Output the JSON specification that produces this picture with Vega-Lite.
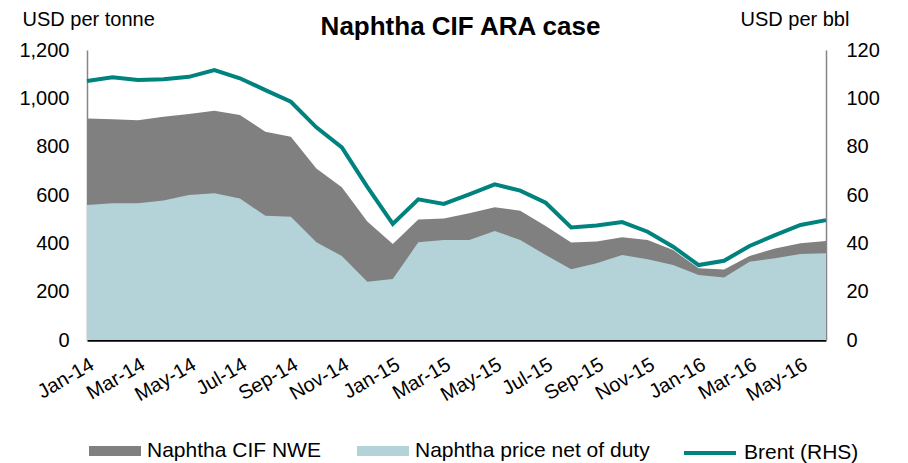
{
  "$schema": "https://vega.github.io/schema/vega-lite/v6.json",
  "autosize": {"type": "none"},
  "width": 739,
  "height": 290,
  "padding": {"left": 87, "top": 50, "right": 82, "bottom": 123},
  "background": "white",
  "title": {"text": "Naphtha CIF ARA case", "fontSize": 26, "fontWeight": "bold", "font": "Liberation Sans", "color": "black", "anchor": "middle", "frame": "group", "baseline": "alphabetic", "offset": 18, "dx": 4, "dy": 70},
  "config": {
    "view": {"stroke": null},
    "font": "Liberation Sans",
    "axis": {"labelFont": "Liberation Sans", "labelFontSize": 20, "labelColor": "black", "titleFont": "Liberation Sans", "titleFontSize": 20, "titleFontWeight": "normal", "titleColor": "black", "grid": false, "ticks": false},
    "legend": {"labelFont": "Liberation Sans", "labelFontSize": 21, "labelColor": "black", "labelLimit": 400}
  },
  "data": {"values": [
    {"month": "Jan-14", "cif": 917, "net": 559, "brent": 107.2},
    {"month": "Feb-14", "cif": 913, "net": 566, "brent": 108.7},
    {"month": "Mar-14", "cif": 909, "net": 566, "brent": 107.6},
    {"month": "Apr-14", "cif": 924, "net": 577, "brent": 107.9},
    {"month": "May-14", "cif": 935, "net": 600, "brent": 108.9},
    {"month": "Jun-14", "cif": 949, "net": 607, "brent": 111.7},
    {"month": "Jul-14", "cif": 931, "net": 586, "brent": 108.3},
    {"month": "Aug-14", "cif": 862, "net": 514, "brent": 103.4},
    {"month": "Sep-14", "cif": 841, "net": 510, "brent": 98.6},
    {"month": "Oct-14", "cif": 710, "net": 404, "brent": 88.0},
    {"month": "Nov-14", "cif": 632, "net": 348, "brent": 79.7},
    {"month": "Dec-14", "cif": 490, "net": 241, "brent": 63.4},
    {"month": "Jan-15", "cif": 397, "net": 252, "brent": 48.0},
    {"month": "Feb-15", "cif": 499, "net": 404, "brent": 58.2},
    {"month": "Mar-15", "cif": 503, "net": 414, "brent": 56.3},
    {"month": "Apr-15", "cif": 524, "net": 414, "brent": 60.3},
    {"month": "May-15", "cif": 549, "net": 451, "brent": 64.4},
    {"month": "Jun-15", "cif": 535, "net": 414, "brent": 61.8},
    {"month": "Jul-15", "cif": 472, "net": 352, "brent": 56.8},
    {"month": "Aug-15", "cif": 403, "net": 293, "brent": 46.6},
    {"month": "Sep-15", "cif": 408, "net": 318, "brent": 47.4},
    {"month": "Oct-15", "cif": 425, "net": 352, "brent": 48.8},
    {"month": "Nov-15", "cif": 414, "net": 334, "brent": 44.8},
    {"month": "Dec-15", "cif": 372, "net": 310, "brent": 38.6},
    {"month": "Jan-16", "cif": 297, "net": 269, "brent": 31.0},
    {"month": "Feb-16", "cif": 292, "net": 259, "brent": 32.8},
    {"month": "Mar-16", "cif": 348, "net": 324, "brent": 38.9},
    {"month": "Apr-16", "cif": 379, "net": 338, "brent": 43.4},
    {"month": "May-16", "cif": 400, "net": 356, "brent": 47.6},
    {"month": "Jun-16", "cif": 410, "net": 359, "brent": 49.6}
  ]},
  "encoding": {
    "x": {"field": "month", "type": "ordinal", "sort": null,
      "scale": {"type": "point", "padding": 0},
      "axis": {"title": null, "values": ["Jan-14","Mar-14","May-14","Jul-14","Sep-14","Nov-14","Jan-15","Mar-15","May-15","Jul-15","Sep-15","Nov-15","Jan-16","Mar-16","May-16"],
        "labelAngle": -30, "labelAlign": "right", "labelBaseline": "top", "labelPadding": 14, "domainColor": "black", "domainWidth": 2.5}}
  },
  "layer": [
    {
      "layer": [
        {"mark": {"type": "area", "opacity": 1},
         "encoding": {
           "y": {"field": "cif", "type": "quantitative", "scale": {"domain": [0, 1200]},
             "axis": {"orient": "left", "values": [0,200,400,600,800,1000,1200], "format": ",.0f", "labelPadding": 18, "domainColor": "#868686", "domainWidth": 1.5,
               "title": "USD per tonne", "titleAngle": 0, "titleAlign": "left", "titleBaseline": "alphabetic", "titleX": -65, "titleY": -25}},
           "fill": {"datum": "Naphtha CIF NWE", "type": "nominal",
             "scale": {"domain": ["Naphtha CIF NWE", "Naphtha price net of duty"], "range": ["#808080", "#b4d3d9"]},
             "legend": {"title": null, "orient": "none", "direction": "horizontal", "legendX": 2, "legendY": 375,
               "labelOffset": 6, "symbolSize": 2704, "symbolType": "M-1,-0.19H1V0.19H-1Z", "symbolStrokeWidth": 0, "symbolOpacity": 1, "columnPadding": 36}
           }
         }},
        {"mark": {"type": "area", "opacity": 1},
         "encoding": {
           "y": {"field": "net", "type": "quantitative"},
           "fill": {"datum": "Naphtha price net of duty", "type": "nominal"}
         }}
      ]
    },
    {"mark": {"type": "line", "strokeWidth": 4},
     "encoding": {
       "y": {"field": "brent", "type": "quantitative", "scale": {"domain": [0, 120]},
         "axis": {"orient": "right", "values": [0,20,40,60,80,100,120], "labelPadding": 20, "domainColor": "#868686", "domainWidth": 1.5,
           "title": "USD per bbl", "titleAngle": 0, "titleAlign": "left", "titleBaseline": "alphabetic", "titleX": -86, "titleY": -25}},
       "stroke": {"datum": "Brent (RHS)", "type": "nominal",
         "scale": {"domain": ["Brent (RHS)"], "range": ["#00827f"]},
         "legend": {"title": null, "orient": "none", "legendX": 595, "legendY": 375,
           "labelOffset": 6, "symbolSize": 2704, "symbolType": "stroke", "symbolStrokeWidth": 4, "symbolOpacity": 1}}
     }}
  ],
  "resolve": {"scale": {"y": "independent"}}
}
